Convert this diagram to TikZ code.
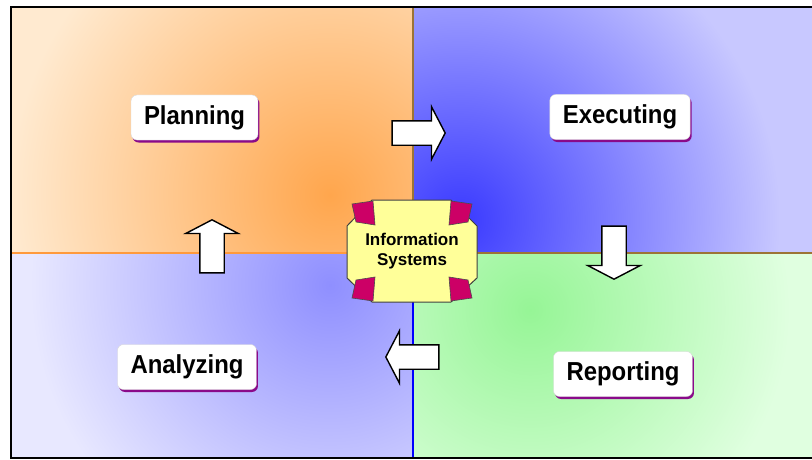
\documentclass[tikz,border=0pt]{standalone}
\usepackage{fontspec}
\setmainfont{Liberation Sans}
\newfontfamily\stagefont{Liberation Sans}[FakeStretch=0.92]
\usetikzlibrary{shapes.arrows,shadows}

\definecolor{peach}{HTML}{FFEAD0}
\definecolor{deeporange}{HTML}{FFA64D}
\definecolor{paleblue}{HTML}{C8C8FF}
\definecolor{deepblue}{HTML}{3A3AFF}
\definecolor{lavender}{HTML}{E8E8FF}
\definecolor{midblue}{HTML}{8F8FFF}
\definecolor{palegreen}{HTML}{E0FFE0}
\definecolor{midgreen}{HTML}{96F596}
\definecolor{divbrown}{HTML}{9C7436}
\definecolor{divorange}{HTML}{FF9A3C}
\definecolor{infoyellow}{HTML}{FFFF99}
\definecolor{cornerred}{HTML}{CC0066}
\definecolor{shadowpurple}{HTML}{8A0A8A}

\tikzset{
  stage/.style={draw=black!15, fill=white, rounded corners=6pt, minimum height=45pt,
    inner xsep=13pt, font=\stagefont\bfseries\fontsize{26}{30}\selectfont,
    drop shadow={shadow xshift=1.5pt, shadow yshift=-2.5pt, fill=shadowpurple, opacity=1}},
  flow/.style={single arrow, draw=black, line width=1.4pt, fill=white, minimum height=53pt,
    inner xsep=0pt, inner ysep=11.5pt, single arrow head extend=14pt,
    single arrow tip angle=125, single arrow head indent=0pt},
  corner/.style={fill=cornerred, draw=black!70, line width=0.6pt}
}

\begin{document}
\begin{tikzpicture}[x=1pt,y=-1pt]
    \useasboundingbox (0,0) rectangle (812,460);
    % four shaded quadrants
    \begin{scope}
        \clip (11,7) rectangle (413,253);
        \fill [peach] (11,7) rectangle (413,253);
        \shade [inner color=deeporange, outer color=peach] (330,195) circle (320);
    \end{scope}
    \begin{scope}
        \clip (413,7) rectangle (812,253);
        \fill [paleblue] (413,7) rectangle (812,253);
        \shade [inner color=deepblue, outer color=paleblue] (460,220) circle (320);
    \end{scope}
    \begin{scope}
        \clip (11,253) rectangle (413,458);
        \fill [lavender] (11,253) rectangle (413,458);
        \shade [inner color=midblue, outer color=lavender] (330,285) circle (300);
    \end{scope}
    \begin{scope}
        \clip (413,253) rectangle (812,458);
        \fill [palegreen] (413,253) rectangle (812,458);
        \shade [inner color=midgreen, outer color=palegreen] (530,310) circle (260);
    \end{scope}
    % dividers and frame
    \draw [divbrown, line width=1.5pt] (413,7)--(413,253);
    \draw [divorange, line width=2pt] (11,253)--(413,253);
    \draw [divbrown, line width=1.5pt] (413,253)--(812,253);
    \draw [blue, line width=2pt] (413,253)--(413,458);
    \draw [line width=2.5pt] (816,7)--(11,7)--(11,458)--(816,458);

    \node [flow] (toexec) at (415.5,133) {};
    \node [flow, rotate=-90] (toreport) at (614,249.5) {};
    \node [flow, rotate=180] (toanalyze) at (415.5,357) {};
    \node [flow, rotate=90] (toplan) at (212,249.5) {};

    % centre plate with folded corners
    \draw [fill=infoyellow, draw=black!75, line width=1pt]
        (372,200)--(451,200)--(477,226)--(477,278)--(451,302)--(372,302)--(347,278)--(347,226)--cycle;
    \draw [corner] (352,204)--(373,201)--(375,225)--(356,222)--cycle;
    \draw [corner] (472,204)--(451,201)--(449,225)--(468,222)--cycle;
    \draw [corner] (352,298)--(373,301)--(375,277)--(356,280)--cycle;
    \draw [corner] (472,298)--(451,301)--(449,277)--(468,280)--cycle;
    \node [align=center, font=\bfseries\fontsize{17}{20}\selectfont] (info) at (412,251) {Information\\Systems};

    \node [stage] (plan) at (194.5,117.5) {Planning};
    \node [stage] (exec) at (620,117) {Executing};
    \node [stage] (analyze) at (187,367) {Analyzing};
    \node [stage] (report) at (623,374) {Reporting};
\end{tikzpicture}
\end{document}
